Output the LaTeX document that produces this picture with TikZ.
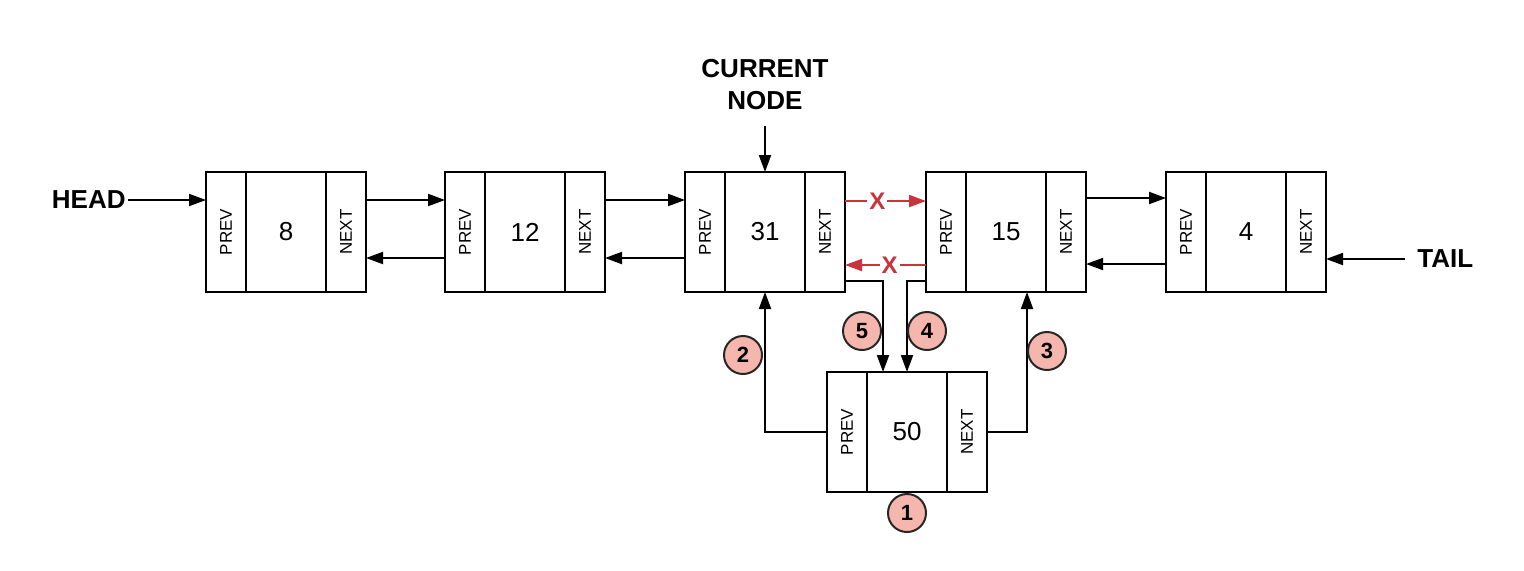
\documentclass[tikz,border=0pt]{standalone}
\usepackage{graphicx}
\usepackage{fontspec}
\setmainfont{Liberation Sans}
\usetikzlibrary{positioning,arrows.meta}
\definecolor{cutred}{RGB}{200,52,60}
\definecolor{stepfill}{RGB}{245,183,173}
\tikzset{
	cell/.style={draw, line width=1pt, minimum height=60pt, inner sep=0pt, outer sep=0pt},
	ptrcell/.style={cell, minimum width=20pt, font=\fontsize{8.5}{10}\selectfont},
	datacell/.style={cell, minimum width=40pt, font=\fontsize{13}{15}\selectfont},
	tag/.style={font=\bfseries\fontsize{13}{16}\selectfont, inner sep=1pt, align=center},
	link/.style={-{Triangle[length=8.5pt,width=6pt]}, line width=1pt},
	cut/.style={link, draw=cutred},
	xmark/.style={text=cutred, fill=white, font=\bfseries\fontsize{12}{12}\selectfont, inner sep=1pt},
	stepmark/.style={circle, draw=black!85, line width=1pt, fill=stepfill, minimum size=19pt, inner sep=0pt, font=\bfseries\fontsize{11}{11}\selectfont}
}
\def\listnode(#1)(#2)#3{%
	\node[ptrcell] (p#1) at (#2) {\rotatebox{90}{PREV}};
	\node[datacell, right=0pt of p#1] (d#1) {#3};
	\node[ptrcell, right=0pt of d#1] (n#1) {\rotatebox{90}{NEXT}};
}

\begin{document}
\begin{tikzpicture}[x=0.5pt, y=-0.5pt]
		%%%%% START %%%%%
		\useasboundingbox (0,0) rectangle (1524,570);
		
		\listnode(8)(226,232){8}
		\listnode(12)(465,232){12}
		\listnode(31)(705,232){31}
		\listnode(15)(946,232){15}
		\listnode(4)(1186,232){4}
		\listnode(50)(847,432){50}
		
		\draw[link] ([yshift=16pt]n8.east) -- ([yshift=16pt]p12.west);
		\draw[link] ([yshift=-13pt]p12.west) -- ([yshift=-13pt]n8.east);
		\draw[link] ([yshift=16pt]n12.east) -- ([yshift=16pt]p31.west);
		\draw[link] ([yshift=-13pt]p31.west) -- ([yshift=-13pt]n12.east);
		\draw[link] ([yshift=17pt]n15.east) -- ([yshift=17pt]p4.west);
		\draw[link] ([yshift=-16pt]p4.west) -- ([yshift=-16pt]n15.east);
		
		\draw[cut] ([yshift=15.5pt]n31.east) -- node[xmark, pos=0.4] {X} ([yshift=15.5pt]p15.west);
		\draw[cut] ([yshift=-16.5pt]p15.west) -- node[xmark, pos=0.45] {X} ([yshift=-16.5pt]n31.east);
		
		\node[tag, above=30pt of d31] (cur) {CURRENT\\NODE};
		\draw[link, shorten <=7pt] (cur.south) -- (d31.north);
		
		\coordinate (headin) at ([yshift=16pt]p8.west);
		\node[tag, left=39pt of headin] (head) {HEAD};
		\draw[link] (head) -- (headin);
		
		\coordinate (tailin) at ([yshift=-13.5pt]n4.east);
		\node[tag, right=44.5pt of tailin] (tail) {TAIL};
		\draw[link, shorten <=5pt] (tail.west) -- (tailin);
		
		\draw[link] (p50.west) -| (d31.south);
		\draw[link] (n50.east) -| ([xshift=10.5pt]d15.south);
		\draw[link] ([yshift=-24.5pt]n31.east) -| ([xshift=8pt]d50.north west);
		\draw[link] ([yshift=-24.5pt]p15.west) -| (d50.north);
		
		\node[stepmark, below=0.5pt of d50] (s1) {1};
		\node[stepmark] (s2) at (743,355) {2};
		\node[stepmark] (s3) at (1047,351) {3};
		\node[stepmark] (s4) at (927,331) {4};
		\node[stepmark] (s5) at (862,331) {5};
		
		%%%%% END %%%%%
\end{tikzpicture}
\end{document}
